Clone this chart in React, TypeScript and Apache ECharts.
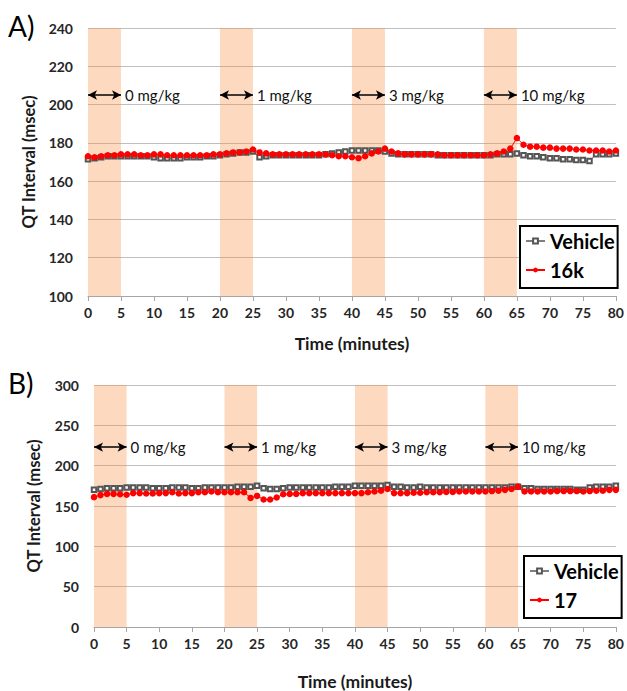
import React, { useEffect, useRef } from 'react';
import * as echarts from 'echarts';

const minutes: number[] = Array.from({ length: 81 }, (_, i) => i);

const vehicleA = [
  171.5, 172, 172.5, 173, 173, 173, 173, 173, 173, 173,
  172.5, 172, 172, 172, 172, 172.5, 172.5, 172.5, 173, 173,
  173.5, 174, 174.5, 175, 175, 175.5, 172.5, 173, 173.5, 173.5,
  173.5, 173.5, 173.5, 173.5, 173.5, 173.5, 174, 174.5, 175, 175.5,
  176, 176, 176, 176, 176, 175.5, 174.5, 174, 174, 174,
  174, 174, 174, 173.5, 173.5, 173.5, 173.5, 173.5, 173.5, 173.5,
  173.5, 173.5, 174, 174, 174, 174.5, 173.5, 173, 173, 172.5,
  172, 172, 171.5, 171.5, 171, 171, 170.5, 174, 174, 174,
  174.5,
];

const compoundA = [
  173, 172.5, 173, 173.5, 173.5, 174, 174, 174, 173.5, 173.5,
  174, 174, 173.5, 173.5, 173.5, 173.5, 173.5, 173.5, 173.5, 174,
  174, 174.5, 175, 175, 175.5, 176.5, 175, 174.5, 174, 174,
  174, 174, 174, 174, 174, 174, 174, 173.5, 173, 173,
  172.5, 172, 173, 174.5, 175.5, 177, 175.5, 174.5, 174, 174,
  174, 174, 174, 174, 173.5, 173.5, 173.5, 173.5, 173.5, 173.5,
  173.5, 174, 174.5, 175.5, 177, 182.5, 179, 178, 178, 177.5,
  177.5, 177, 177, 177, 176.5, 176.5, 176, 176, 176, 175.5,
  176,
];

const vehicleB = [
  170, 171, 172, 172, 172, 173, 173, 173, 173, 172,
  172, 172, 173, 173, 173, 172, 172, 173, 173, 173,
  173, 173, 174, 174, 174, 175, 172, 171, 171, 172,
  173, 173, 173, 173, 173, 173, 173, 174, 174, 174,
  175, 175, 175, 175, 175, 176, 174, 174, 173, 173,
  174, 173, 173, 173, 173, 173, 173, 173, 173, 173,
  173, 173, 173, 173, 174, 174, 172, 172, 171, 171,
  171, 171, 171, 171, 170, 170, 173, 174, 174, 174,
  175,
];

const compoundB = [
  161, 163.5, 165, 165, 164.5, 164, 166, 166, 165.5, 165.5,
  166, 166, 167, 165.5, 166, 166, 167, 167, 168, 167,
  167, 167, 167, 167, 160, 162.5, 158, 158, 160.5, 164.5,
  165, 165, 166, 166, 166, 166, 166, 166, 166, 166,
  166, 166, 167, 168, 169, 171, 166, 166, 166, 166.5,
  166.5, 167, 167, 167, 167.5, 167.5, 168, 168, 168, 168,
  168, 168.5, 169, 170, 171, 174, 168, 168, 168, 168,
  168, 168.5, 168.5, 168.5, 168.5, 168, 168.5, 169, 169, 170,
  170,
];

const doseStarts = [0, 20, 40, 60];
const doseLength = 5;
const doseLabels = ['0 mg/kg', '1 mg/kg', '3 mg/kg', '10 mg/kg'];
const arrowYA = 205;
const arrowYB = 223;

const FONT = 'Lato, "Open Sans", "Noto Sans", sans-serif';

function pairs(vals: number[]) {
  return vals.map((v, i) => [minutes[i], v]);
}

export default function App() {
  const ref = useRef<HTMLDivElement>(null);
  useEffect(() => {
    document.body.style.margin = '0';
    if (!ref.current) return;
    const chart = echarts.init(ref.current, undefined, { renderer: 'svg' });

    const xAxisBase = (gridIndex: number, gap: number) => ({
      type: 'value',
      gridIndex,
      min: 0,
      max: 80,
      interval: 5,
      name: 'Time (minutes)',
      nameLocation: 'middle',
      nameGap: gap,
      nameTextStyle: { fontFamily: FONT, fontSize: 17.5, fontWeight: 'bold', color: '#1a1a1a' },
      axisLine: { show: true, lineStyle: { color: '#a6a6a6', width: 1 } },
      axisTick: { show: true, length: 5, lineStyle: { color: '#a6a6a6' } },
      axisLabel: { fontFamily: FONT, fontSize: 14, fontWeight: 'bold', color: '#262626', margin: 9 },
      splitLine: { show: false },
    });

    const yAxisBase = (gridIndex: number, min: number, max: number, interval: number, gap: number) => ({
      type: 'value',
      gridIndex,
      min,
      max,
      interval,
      name: 'QT Interval (msec)',
      nameLocation: 'middle',
      nameGap: gap,
      nameRotate: 90,
      nameTextStyle: { fontFamily: FONT, fontSize: 16.5, fontWeight: 'bold', color: '#1a1a1a' },
      axisLine: { show: false },
      axisTick: { show: false },
      axisLabel: { fontFamily: FONT, fontSize: 14, fontWeight: 'bold', color: '#262626', margin: 15 },
      splitLine: { show: true, lineStyle: { color: '#bfbfbf', width: 1 } },
    });

    const bands = () => ({
      silent: true,
      itemStyle: { color: 'rgba(248,140,60,0.33)' },
      data: doseStarts.map((s) => [{ xAxis: s }, { xAxis: s + doseLength }]),
    });

    const arrows = (y: number) => ({
      silent: true,
      symbol: ['arrow', 'arrow'],
      symbolSize: [7, 9],
      lineStyle: { color: '#000', width: 1.5, type: 'solid' },
      label: {
        show: true,
        position: 'end',
        formatter: '{b}',
        fontFamily: FONT,
        fontSize: 15,
        color: '#111',
        distance: 4,
      },
      emphasis: { disabled: true },
      data: doseStarts.map((s, i) => [
        { name: doseLabels[i], coord: [s, y] },
        { coord: [s + doseLength, y] },
      ]),
    });

    const vehicleSeries = (idx: number, data: number[], y: number) => ({
      name: 'Vehicle',
      type: 'line',
      xAxisIndex: idx,
      yAxisIndex: idx,
      data: pairs(data),
      symbol: 'emptyRect',
      symbolSize: 4.5,
      lineStyle: { color: '#7f7f7f', width: 1 },
      itemStyle: { color: '#555555', borderWidth: 1 },
      markArea: bands(),
      markLine: arrows(y),
      z: 2,
    });

    const compoundSeries = (idx: number, name: string, data: number[]) => ({
      name,
      type: 'line',
      xAxisIndex: idx,
      yAxisIndex: idx,
      data: pairs(data),
      symbol: 'circle',
      symbolSize: 6.5,
      lineStyle: { color: '#ff0000', width: 1 },
      itemStyle: { color: '#ff0000' },
      z: 3,
    });

    const legendBase = (left: number, top: number, items: string[]) => ({
      orient: 'vertical',
      left,
      top,
      data: items,
      backgroundColor: '#fff',
      borderColor: '#000',
      borderWidth: 2,
      padding: [5, 3, 8, 5],
      itemGap: 9,
      itemWidth: 19,
      itemHeight: 6,
      selectedMode: false,
      textStyle: { fontFamily: FONT, fontSize: 20, fontWeight: 'bold', color: '#000', padding: [0, 0, 0, 0] },
    });

    chart.setOption({
      animation: false,
      backgroundColor: '#fff',
      grid: [
        { left: 88, right: 9, top: 28, height: 268 },
        { left: 94, right: 8, top: 385, height: 242 },
      ],
      xAxis: [xAxisBase(0, 38), xAxisBase(1, 45)],
      yAxis: [yAxisBase(0, 100, 240, 20, 48), yAxisBase(1, 0, 300, 50, 52)],
      legend: [
        legendBase(520, 226, ['Vehicle', '16k']),
        legendBase(524, 556, ['Vehicle', '17']),
      ],
      graphic: [
        { type: 'text', left: 8, top: 12, style: { text: 'A)', fontFamily: FONT, fontSize: 28, fill: '#000' } },
        { type: 'text', left: 8, top: 369, style: { text: 'B)', fontFamily: FONT, fontSize: 28, fill: '#000' } },
      ],
      series: [
        vehicleSeries(0, vehicleA, arrowYA),
        compoundSeries(0, '16k', compoundA),
        vehicleSeries(1, vehicleB, arrowYB),
        compoundSeries(1, '17', compoundB),
      ],
    });
    return () => chart.dispose();
  }, []);
  return <div ref={ref} style={{ width: 627, height: 691 }} />;
}
